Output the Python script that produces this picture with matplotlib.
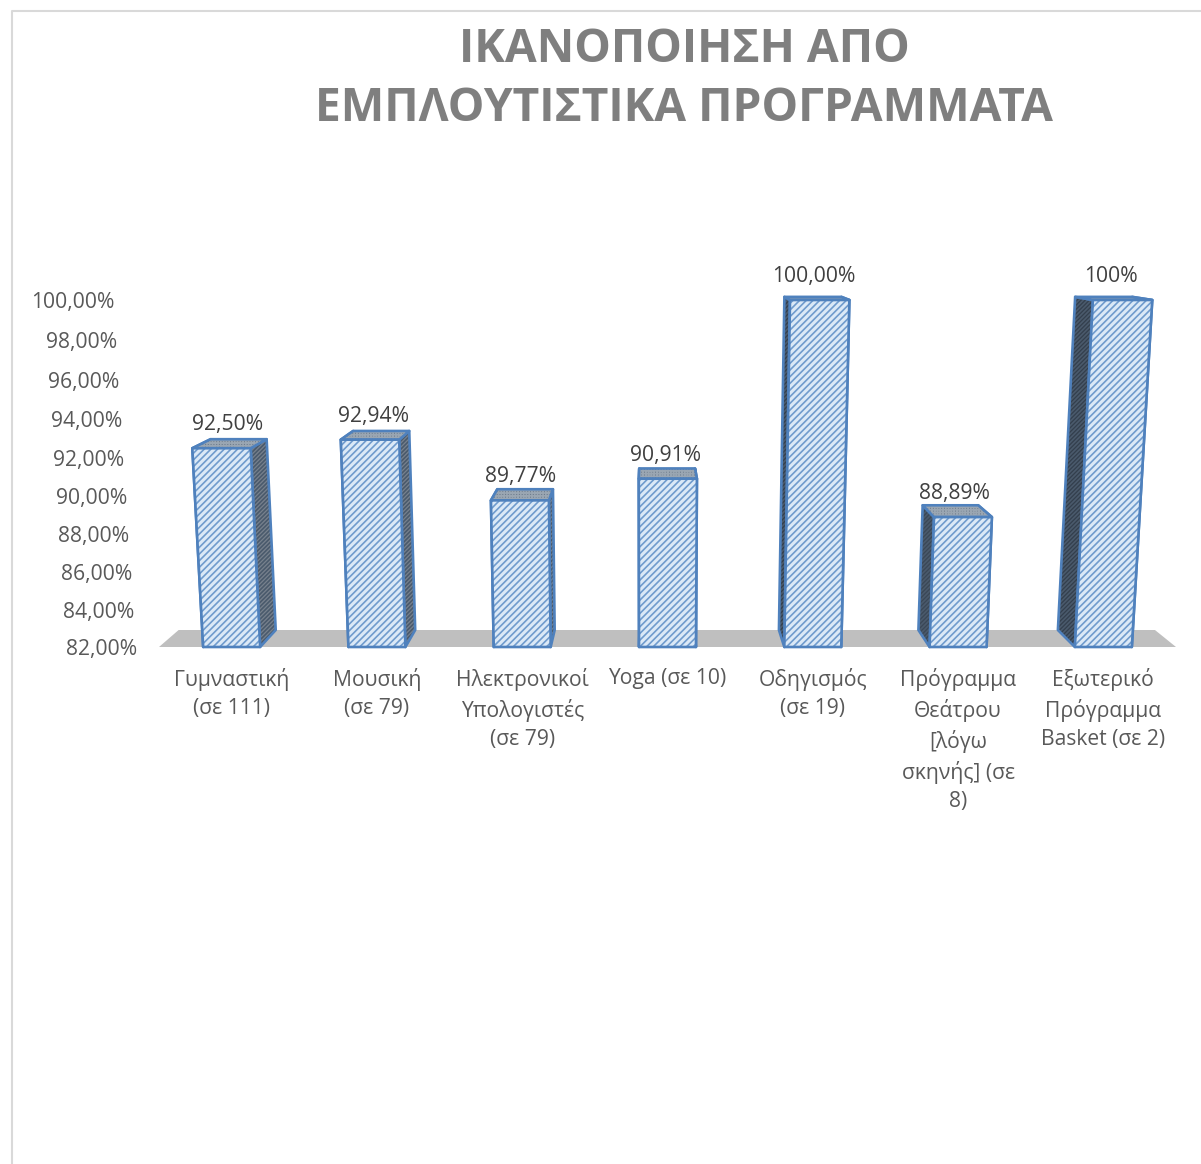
import numpy as np
import matplotlib
matplotlib.use('Agg')
import matplotlib.pyplot as plt
from matplotlib.patches import Polygon
from matplotlib.transforms import IdentityTransform

# data
categories = ['Γυμναστική\n(σε 111)', 'Μουσική\n(σε 79)', 'Ηλεκτρονικοί\nΥπολογιστές\n(σε 79)',
              'Yoga (σε 10)', 'Οδηγισμός\n(σε 19)', 'Πρόγραμμα\nΘεάτρου\n[λόγω\nσκηνής] (σε\n8)',
              'Εξωτερικό\nΠρόγραμμα\nBasket (σε 2)']
values = [92.50, 92.94, 89.77, 90.91, 100.00, 88.89, 100.00]
value_labels = ['92,50%', '92,94%', '89,77%', '90,91%', '100,00%', '88,89%', '100%']
tick_values = [82, 84, 86, 88, 90, 92, 94, 96, 98, 100]
tick_labels = ['82,00%', '84,00%', '86,00%', '88,00%', '90,00%', '92,00%', '94,00%', '96,00%', '98,00%', '100,00%']
# the 3d view squeezes the axis a bit towards the bottom, heights
tick_heights = [0, 37, 75, 113, 151, 189, 228, 267, 307, 347]
side_colors = ['#77818d', '#77818d', '#77818d', '#77818d', '#333f4d', '#3a4756', '#333f4d']

W, H = 1201, 1164
plt.rcParams['font.family'] = ['Open Sans', 'DejaVu Sans']
plt.rcParams['hatch.linewidth'] = 1.2

fig = plt.figure(figsize=(W / 100, H / 100), dpi=100)

# chart frame
fig.add_artist(plt.Line2D([12 / W, 12 / W, 1], [0, 1 - 11 / H, 1 - 11 / H], color='#d9d9d9', lw=1.5))

left, right, top, bottom = 159, 1176, 300, 647
ax = fig.add_axes([left / W, 1 - bottom / H, (right - left) / W, (bottom - top) / H])


def to_h(v):
    return np.interp(v, tick_values, tick_heights)


def from_h(h):
    return np.interp(h, tick_heights, tick_values)


ax.set_yscale('function', functions=(to_h, from_h))
ax.set_ylim(82, 100)
ax.set_xlim(-0.5, 6.5)
for s in ax.spines.values():
    s.set_visible(False)
ax.patch.set_alpha(0)
ax.set_yticks(tick_values)
ax.set_yticklabels(tick_labels, fontsize=15.2, color='#595959')
ax.yaxis.set_minor_locator(matplotlib.ticker.NullLocator())
ax.set_xticks(range(len(categories)))
ax.set_xticklabels(categories, fontsize=15.2, color='#595959', linespacing=1.44)
ax.tick_params(axis='both', length=0)
ax.tick_params(axis='x', pad=15)
# labels lean with the wall of the 3d chart
for tick, h in zip(ax.yaxis.get_major_ticks(), tick_heights):
    tick.set_pad((22 + h * 23 / 347) * 0.72)

fig.canvas.draw()

# perspective of the 3d view, in pixels (y up, as display coords)
vp_x, vp_y = 650, H - 222
depth = 0.04
lean = 8190
bar_w = 0.392


def lift(x, y, base_y):
    # columns lean away from the vanishing point as they get taller
    return (vp_x + (x - vp_x) * (1 + (y - base_y) / lean), y)


def back(p):
    return (p[0] + (vp_x - p[0]) * depth, p[1] + (vp_y - p[1]) * depth)


def face(pts, fc, hatch=None, hc='#4f81bd', z=3):
    ax.add_patch(Polygon(pts, closed=True, transform=IdentityTransform(), facecolor=fc, edgecolor=hc,
                         hatch=hatch, lw=0, zorder=z, clip_on=False))
    ax.add_patch(Polygon(pts, closed=True, transform=IdentityTransform(), fill=False, edgecolor='#4f81bd',
                         lw=1.9, joinstyle='round', zorder=z + 0.1, clip_on=False))


# floor
x0, y0 = ax.transData.transform((-0.5, 82))
x1, _ = ax.transData.transform((6.5, 82))
fl = [(x0, y0), (x1, y0), back((x1, y0)), back((x0, y0))]
ax.add_patch(Polygon(fl, closed=True, transform=IdentityTransform(), facecolor='#bfbfbf', lw=0, zorder=1, clip_on=False))

for i, v in enumerate(values):
    xl, base = ax.transData.transform((i - bar_w / 2, 82))
    xr, ytop = ax.transData.transform((i + bar_w / 2, v))
    bl, br = (xl, base), (xr, base)
    tl, tr = lift(xl, ytop, base), lift(xr, ytop, base)
    # sides and lid first, front goes over them
    face([bl, tl, back(tl), back(bl)], side_colors[i], '////////', '#4a5a6c', 3)
    face([br, tr, back(tr), back(br)], side_colors[i], '////////', '#4a5a6c', 3)
    face([tl, tr, back(tr), back(tl)], '#6f7d8d', '++++++', '#9aa6b2', 4)
    face([bl, br, tr, tl], '#dbe9f7', '/////', '#6f9bcd', 5)
    cx = (tl[0] + back(tr)[0]) / 2 - 1.5
    ax.annotate(value_labels[i], xy=(cx, ytop), xycoords='figure pixels', xytext=(0, 17), textcoords='offset points',
                ha='center', va='center', fontsize=15.2, color='#404040', annotation_clip=False, zorder=7)

fig.text(684 / W, 1 - 79 / H, 'ΙΚΑΝΟΠΟΙΗΣΗ ΑΠΟ\nΕΜΠΛΟΥΤΙΣΤΙΚΑ ΠΡΟΓΡΑΜΜΑΤΑ', ha='center', va='center',
         fontsize=33.2, fontweight='bold', color='#7f7f7f', linespacing=1.33)

fig.savefig('out.png', dpi=100)
